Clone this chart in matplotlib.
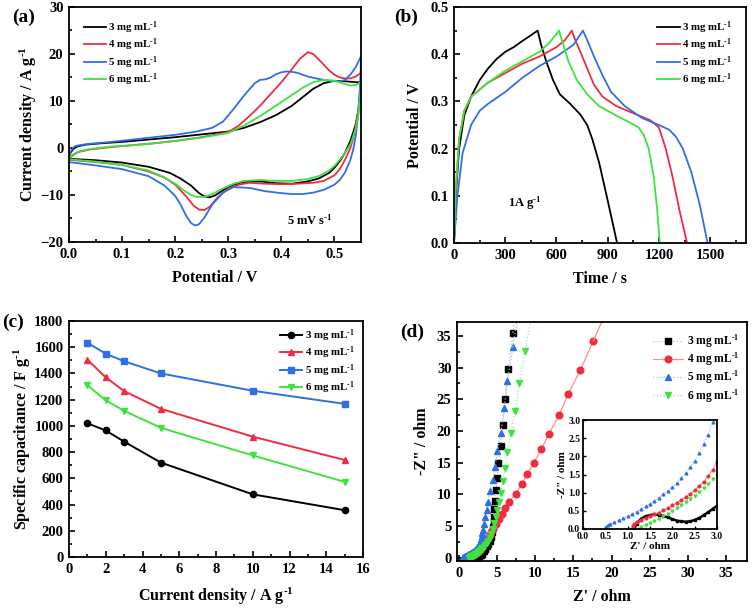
import numpy as np
import matplotlib
matplotlib.use("Agg")
import matplotlib.pyplot as plt

plt.rcParams['font.family'] = ['Liberation Serif', 'DejaVu Serif']
plt.rcParams['font.weight'] = 'bold'
plt.rcParams['axes.labelweight'] = 'bold'
plt.rcParams['mathtext.fontset'] = 'custom'
plt.rcParams['mathtext.rm'] = 'Liberation Serif:bold'
plt.rcParams['mathtext.it'] = 'Liberation Serif:bold'
plt.rcParams['mathtext.bf'] = 'Liberation Serif:bold'
plt.rcParams['axes.linewidth'] = 1.3

labels = ['3 mg mL$^{\\text{-1}}$', '4 mg mL$^{\\text{-1}}$', '5 mg mL$^{\\text{-1}}$', '6 mg mL$^{\\text{-1}}$']
colors = ['#000000', '#f02c40', '#2f6fe6', '#3ee23e']
light = ['#b8c0b8', '#ff8a92', '#9db8f2', '#8cf08c']

# ---- (a) CV curves, upper branch then lower branch ----
cv_x = [
    [0, 0.003, 0.008, 0.015, 0.03, 0.06, 0.1, 0.15, 0.2, 0.25, 0.3, 0.33, 0.36, 0.39, 0.42, 0.44, 0.46, 0.48, 0.5, 0.52, 0.54, 0.55,
     0.548, 0.545, 0.54, 0.53, 0.52, 0.51, 0.5, 0.49, 0.47, 0.45, 0.42, 0.39, 0.36, 0.33, 0.31, 0.29, 0.275, 0.265, 0.255, 0.245,
     0.23, 0.21, 0.19, 0.15, 0.1, 0.05, 0],
    [0, 0.01, 0.02, 0.04, 0.08, 0.12, 0.16, 0.2, 0.25, 0.3, 0.32, 0.34, 0.36, 0.38, 0.4, 0.42, 0.435, 0.45, 0.46, 0.475, 0.49, 0.5,
     0.51, 0.52, 0.53, 0.54, 0.55,
     0.548, 0.545, 0.54, 0.535, 0.53, 0.52, 0.51, 0.5, 0.48, 0.46, 0.43, 0.4, 0.37, 0.34, 0.32, 0.3, 0.28, 0.265, 0.255, 0.245,
     0.235, 0.22, 0.2, 0.18, 0.15, 0.1, 0.05, 0],
    [0, 0.003, 0.007, 0.012, 0.02, 0.04, 0.08, 0.12, 0.16, 0.2, 0.24, 0.27, 0.29, 0.31, 0.33, 0.35, 0.36, 0.37, 0.38, 0.39, 0.4,
     0.41, 0.42, 0.43, 0.45, 0.47, 0.49, 0.51, 0.52, 0.53, 0.54, 0.55,
     0.549, 0.547, 0.545, 0.54, 0.535, 0.53, 0.52, 0.51, 0.5, 0.48, 0.46, 0.44, 0.42, 0.4, 0.37, 0.34, 0.31, 0.29, 0.27, 0.255,
     0.245, 0.238, 0.23, 0.22, 0.21, 0.2, 0.18, 0.15, 0.1, 0.05, 0],
    [0, 0.01, 0.02, 0.04, 0.08, 0.12, 0.16, 0.2, 0.25, 0.3, 0.33, 0.36, 0.39, 0.42, 0.44, 0.46, 0.48, 0.5, 0.52, 0.53, 0.54, 0.55,
     0.548, 0.545, 0.54, 0.53, 0.52, 0.51, 0.5, 0.49, 0.47, 0.45, 0.42, 0.39, 0.36, 0.33, 0.31, 0.29, 0.27, 0.255, 0.24, 0.23,
     0.22, 0.2, 0.18, 0.15, 0.1, 0.05, 0],
]
cv_y = [
    [-2.0, -1.0, -0.2, 0.3, 0.7, 1.0, 1.3, 1.8, 2.3, 2.9, 3.5, 4.3, 5.5, 7.0, 9.0, 10.8, 12.6, 13.8, 14.3, 14.2, 14.0, 14.0,
     11, 8, 5, 1.5, -1.0, -2.8, -4.2, -5.3, -6.5, -7.1, -7.6, -7.5, -7.1, -7.2, -7.8, -9.0, -10.1, -10.5, -10.3, -9.6,
     -8.0, -6.5, -5.3, -4.0, -3.1, -2.6, -2.3],
    [-2.2, -1.3, -0.8, -0.3, 0.2, 0.6, 1.0, 1.5, 2.3, 3.4, 4.8, 6.8, 9.0, 11.5, 14.0, 16.8, 19.0, 20.4, 20.0, 18.3, 16.5, 15.6,
     15.0, 14.8, 14.8, 15.2, 16.0,
     12, 8, 4.5, 2.0, 0.0, -2.5, -4.5, -5.8, -7.0, -7.4, -7.6, -7.7, -7.6, -7.4, -7.8, -8.6, -10.5, -12.5, -13.2, -13.1,
     -12.3, -10.2, -7.8, -6.3, -5.0, -3.6, -3.0, -2.5],
    [-1.8, -0.8, 0.0, 0.4, 0.6, 0.9, 1.3, 1.8, 2.3, 2.8, 3.5, 4.3, 5.6, 8.3, 11.2, 13.8, 14.5, 14.6, 15.0, 15.7, 16.1,
     16.3, 16.2, 16.0, 15.2, 14.7, 14.3, 14.2, 14.5, 15.6, 17.2, 19.5,
     15, 11, 7.5, 2.5, -0.5, -2.5, -5.2, -6.8, -7.8, -8.9, -9.5, -9.8, -9.8, -9.6, -9.2, -8.5, -8.3, -9.5, -12.0, -14.8,
     -16.2, -16.5, -16.0, -14.3, -12.0, -10.2, -8.0, -6.0, -4.5, -3.7, -3.0],
    [-2.0, -1.2, -0.7, -0.2, 0.3, 0.6, 1.0, 1.5, 2.2, 3.2, 4.8, 6.8, 9.0, 11.3, 12.8, 14.0, 14.5, 14.3, 13.6, 13.3, 13.4, 14.0,
     10.5, 7, 4, 0.8, -1.0, -2.5, -3.8, -4.8, -6.0, -6.6, -7.0, -7.0, -6.8, -7.0, -7.6, -8.6, -9.8, -10.4, -10.4, -10.0,
     -9.3, -7.6, -6.3, -4.8, -3.6, -2.9, -2.4],
]

# ---- (b) GCD curves ----
gcd_t = [
    [0, 10, 30, 60, 100, 150, 200, 250, 300, 350, 400, 450, 490, 510, 540, 580, 620, 680, 740, 780, 810, 850, 900, 955],
    [0, 10, 30, 60, 100, 150, 200, 300, 400, 500, 600, 650, 690, 710, 740, 780, 820, 870, 950, 1050, 1150, 1200, 1240, 1280,
     1320, 1365],
    [0, 20, 50, 100, 150, 200, 300, 400, 500, 600, 700, 755, 780, 820, 870, 920, 1000, 1100, 1200, 1260, 1300, 1340, 1390, 1440,
     1485],
    [0, 10, 30, 60, 100, 150, 200, 300, 400, 500, 560, 615, 640, 670, 720, 780, 850, 950, 1030, 1080, 1110, 1140, 1170, 1190,
     1205],
]
gcd_v = [
    [0, 0.1, 0.2, 0.27, 0.31, 0.345, 0.37, 0.39, 0.405, 0.415, 0.428, 0.44, 0.45, 0.42, 0.385, 0.345, 0.315, 0.295, 0.272,
     0.25, 0.22, 0.17, 0.09, 0],
    [0, 0.1, 0.22, 0.28, 0.31, 0.325, 0.34, 0.36, 0.38, 0.395, 0.415, 0.43, 0.45, 0.43, 0.405, 0.37, 0.335, 0.31, 0.29, 0.275,
     0.26, 0.245, 0.2, 0.14, 0.07, 0],
    [0, 0.1, 0.19, 0.25, 0.28, 0.295, 0.32, 0.35, 0.375, 0.395, 0.42, 0.45, 0.43, 0.395, 0.355, 0.32, 0.29, 0.265, 0.25, 0.24,
     0.225, 0.2, 0.15, 0.08, 0],
    [0, 0.12, 0.22, 0.28, 0.31, 0.325, 0.34, 0.365, 0.385, 0.405, 0.425, 0.45, 0.42, 0.385, 0.345, 0.315, 0.29, 0.27, 0.255,
     0.245, 0.23, 0.2, 0.14, 0.07, 0],
]

# ---- (c) rate capability ----
rate_j = [1, 2, 3, 5, 10, 15]
rate_c = [
    [1020, 965, 880, 720, 478, 357],
    [1505, 1370, 1265, 1130, 918, 740],
    [1635, 1550, 1493, 1400, 1268, 1168],
    [1310, 1195, 1115, 985, 775, 573],
]
rate_markers = ['o', '^', 's', 'v']

# ---- (d) Nyquist, low frequency part ----
eis_re = [
    [3.2, 3.4, 3.6, 3.8, 4.0, 4.15, 4.3, 4.4, 4.5, 4.55, 4.6, 4.65, 4.8, 5.02, 5.15, 5.42, 5.68, 6.03, 6.46, 7.05],
    [3.2, 3.4, 3.6, 3.8, 4.0, 4.2, 4.4, 4.8, 5.2, 5.6, 6.0, 6.5, 7.4, 8.2, 8.95, 9.83, 10.75, 11.8, 13.1, 14.3, 15.9, 17.6],
    [2.95, 3.0, 3.1, 3.2, 3.4, 3.6, 3.8, 4.0, 4.37, 4.68, 5.02, 5.46, 5.9, 6.33, 7.03],
    [3.2, 3.4, 3.6, 3.8, 4.0, 4.2, 4.4, 4.6, 4.8, 5.0, 5.2, 5.45, 5.73, 6.03, 6.33, 6.78, 7.34, 7.9, 8.65],
]
eis_im = [
    [1.1, 1.4, 1.8, 2.2, 2.7, 3.3, 4.0, 4.8, 5.6, 6.5, 7.7, 9.0, 10.7, 12.6, 15.0, 17.6, 21.0, 25.0, 29.8, 35.5],
    [2.35, 2.6, 2.9, 3.2, 3.6, 4.0, 4.6, 5.4, 6.2, 6.9, 7.8, 8.8, 10.1, 11.6, 13.2, 15.0, 17.1, 19.6, 22.5, 25.8, 29.6, 34.2],
    [3.4, 3.9, 4.4, 5.4, 6.4, 7.5, 8.8, 10.5, 12.2, 14.3, 16.8, 19.7, 23.7, 27.9, 33.2],
    [1.75, 2.0, 2.3, 2.7, 3.2, 3.8, 4.5, 5.5, 6.5, 7.5, 8.8, 10.3, 12.1, 14.1, 16.7, 19.7, 23.2, 27.5, 32.6],
]

# ---- (d) inset, high frequency region ----
ins_re = [
    [1.15, 1.2, 1.3, 1.4, 1.5, 1.6, 1.7, 1.8, 1.9, 2.0, 2.1, 2.2, 2.3, 2.4, 2.5, 2.6, 2.7, 2.8, 2.9, 3.0],
    [1.1, 1.12, 1.15, 1.2, 1.3, 1.4, 1.5, 1.6, 1.7, 1.8, 1.9, 2.0, 2.1, 2.2, 2.3, 2.4, 2.5, 2.6, 2.7, 2.8, 2.9, 3.0],
    [0.5, 0.52, 0.55, 0.6, 0.7, 0.8, 0.9, 1.0, 1.1, 1.2, 1.3, 1.4, 1.5, 1.6, 1.7, 1.8, 1.9, 2.0, 2.1, 2.2, 2.3, 2.4, 2.5,
     2.6, 2.7, 2.8, 2.9],
    [1.25, 1.3, 1.4, 1.5, 1.6, 1.7, 1.8, 1.9, 2.0, 2.1, 2.2, 2.3, 2.4, 2.5, 2.6, 2.7, 2.8, 2.9, 3.0],
]
ins_im = [
    [0.0, 0.15, 0.28, 0.35, 0.38, 0.4, 0.39, 0.36, 0.32, 0.27, 0.23, 0.21, 0.2, 0.21, 0.25, 0.3, 0.38, 0.46, 0.55, 0.64],
    [0.0, 0.08, 0.13, 0.18, 0.25, 0.3, 0.35, 0.4, 0.45, 0.52, 0.58, 0.65, 0.72, 0.8, 0.88, 0.97, 1.07, 1.18, 1.3, 1.45, 1.62,
     1.85],
    [0.0, 0.05, 0.1, 0.14, 0.19, 0.24, 0.29, 0.35, 0.41, 0.48, 0.55, 0.62, 0.7, 0.78, 0.86, 0.95, 1.05, 1.15, 1.27, 1.4, 1.55,
     1.7, 1.88, 2.1, 2.35, 2.6, 2.95],
    [0.0, 0.05, 0.12, 0.17, 0.22, 0.28, 0.35, 0.42, 0.5, 0.57, 0.65, 0.73, 0.82, 0.92, 1.02, 1.13, 1.25, 1.37, 1.5],
]
eis_markers = ['s', 'o', '^', 'v']
eis_ms = [4.0, 4.8, 4.8, 4.8]
eis_ls = [':', '-', ':', ':']
inset_line = ['#000000', '#ff8a92', '#9db8f2', '#8cf08c']

fig = plt.figure(figsize=(7.56, 6.12), dpi=100)

TICK = 10.5
LAB = 11.5
LEG = 7.8
LEG_KW = dict(frameon=False, fontsize=LEG, handlelength=2.1, handletextpad=0.2, labelspacing=0.08)


def style_axes(ax, size=TICK):
    ax.tick_params(which='both', direction='in', top=False, right=False, labelsize=size, width=1.2, pad=4)
    ax.tick_params(which='major', length=4)
    ax.tick_params(which='minor', length=2)
    for lab in ax.get_xticklabels() + ax.get_yticklabels():
        lab.set_fontweight('bold')


# (a)
ax = fig.add_axes([69 / 756, 1 - 242 / 612, 292 / 756, 235 / 612])
for i in range(4):
    ax.plot(cv_x[i], cv_y[i], color=colors[i], lw=1.3, label=labels[i])
ax.set_xlim(0, 0.55)
ax.set_ylim(-20, 30)
ax.set_xticks(np.arange(0, 0.51, 0.1))
ax.set_xticks(np.arange(0.05, 0.55, 0.1), minor=True)
ax.set_yticks(np.arange(-20, 31, 10))
ax.set_yticks(np.arange(-15, 30, 10), minor=True)
style_axes(ax)
ax.set_xlabel('Potential / V', fontsize=LAB, labelpad=7)
ax.set_ylabel('Current density / A g$^{\\text{-1}}$', fontsize=LAB, labelpad=1)
ax.legend(loc='upper left', bbox_to_anchor=(0.02, 0.985), borderaxespad=0.4, **LEG_KW)
ax.text(0.41, -15.3, '5 mV s$^{\\text{-1}}$', fontsize=9, va='center')
fig.text(12 / 756, 1 - 17 / 612, '(a)', fontsize=14, fontweight='bold', va='center')

# (b)
ax = fig.add_axes([454 / 756, 1 - 243 / 612, 292 / 756, 236 / 612])
for i in range(4):
    ax.plot(gcd_t[i], gcd_v[i], color=colors[i], lw=1.3, label=labels[i])
ax.set_xlim(0, 1710)
ax.set_ylim(0, 0.5)
ax.set_xticks(np.arange(0, 1501, 300))
ax.set_xticks(np.arange(150, 1700, 300), minor=True)
ax.set_yticks(np.arange(0, 0.51, 0.1))
ax.set_yticks(np.arange(0.05, 0.5, 0.1), minor=True)
style_axes(ax)
ax.set_xlabel('Time / s', fontsize=LAB, labelpad=7)
ax.set_ylabel('Potential / V', fontsize=LAB, labelpad=5)
ax.legend(loc='upper right', bbox_to_anchor=(0.98, 0.985), borderaxespad=0.4, **LEG_KW)
ax.text(316, 0.085, '1A g$^{\\text{-1}}$', fontsize=9, va='center')
fig.text(394 / 756, 1 - 17 / 612, '(b)', fontsize=14, fontweight='bold', va='center')

# (c)
ax = fig.add_axes([69 / 756, 1 - 557 / 612, 294 / 756, 236 / 612])
for i in range(4):
    ax.plot(rate_j, rate_c[i], color=colors[i], lw=1.4, marker=rate_markers[i], ms=4.5, label=labels[i])
ax.set_xlim(0, 16)
ax.set_ylim(0, 1800)
ax.set_xticks(np.arange(0, 17, 2))
ax.set_xticks(np.arange(1, 16, 2), minor=True)
ax.set_yticks(np.arange(0, 1801, 200))
ax.set_yticks(np.arange(100, 1800, 200), minor=True)
style_axes(ax)
ax.set_xlabel('Current density / A g$^{\\text{-1}}$', fontsize=LAB, labelpad=7)
ax.set_ylabel('Specific capacitance / F g$^{\\text{-1}}$', fontsize=LAB, labelpad=1)
ax.legend(loc='upper right', bbox_to_anchor=(1.0, 1.01), borderaxespad=0.4, **LEG_KW)
fig.text(2 / 756, 1 - 322 / 612, '(c)', fontsize=14, fontweight='bold', va='center')

# (d)
ax = fig.add_axes([457 / 756, 1 - 561 / 612, 290 / 756, 239 / 612])
for i in range(4):
    xs = ins_re[i] + eis_re[i]
    ys = ins_im[i] + eis_im[i]
    ax.plot(xs, ys, color=light[i], lw=0.9, ls=eis_ls[i],
            marker=eis_markers[i], ms=eis_ms[i], mfc=colors[i], mec=colors[i], label=labels[i])
    # line keeps going past the last marker, out of the top of the frame
    dx = xs[-1] - xs[-2]
    dy = ys[-1] - ys[-2]
    ax.plot([xs[-1], xs[-1] + dx * 2], [ys[-1], ys[-1] + dy * 2], color=light[i], lw=0.9, ls=eis_ls[i])
ax.set_xlim(-0.3, 37.8)
ax.set_ylim(-0.5, 37.2)
ax.set_xticks(np.arange(0, 36, 5))
ax.set_xticks(np.arange(2.5, 37, 5), minor=True)
ax.set_yticks(np.arange(0, 36, 5))
ax.set_yticks(np.arange(2.5, 37, 5), minor=True)
style_axes(ax)
ax.set_xlabel("Z' / ohm", fontsize=LAB, labelpad=7)
ax.set_ylabel('-Z" / ohm', fontsize=LAB, labelpad=5)
ax.legend(loc='upper right', frameon=False, fontsize=8.3, handlelength=2.6, handletextpad=0.3,
          labelspacing=0.05, borderaxespad=0.3, bbox_to_anchor=(1.0, 0.99))
fig.text(400 / 756, 1 - 332 / 612, '(d)', fontsize=14, fontweight='bold', va='center')

# inset
axi = fig.add_axes([583 / 756, 1 - 529 / 612, 134 / 756, 109 / 612])
for i in range(4):
    axi.plot(ins_re[i], ins_im[i], color=inset_line[i], lw=0.8 if i else 1.8, ls=eis_ls[i] if i else '-',
             marker=eis_markers[i], ms=2.0, mfc=colors[i], mec=colors[i])
axi.set_xlim(0, 3)
axi.set_ylim(0, 3)
axi.set_xticks(np.arange(0, 3.01, 0.5))
axi.set_yticks(np.arange(0, 3.01, 0.5))
axi.tick_params(which='both', direction='in', labelsize=7, width=1.0, length=2.5, pad=2)
for lab in axi.get_xticklabels() + axi.get_yticklabels():
    lab.set_fontweight('bold')
axi.set_xlabel("Z' / ohm", fontsize=8, labelpad=1)
axi.set_ylabel('-Z" / ohm', fontsize=8, labelpad=1)

fig.savefig('out.png', dpi=100)
